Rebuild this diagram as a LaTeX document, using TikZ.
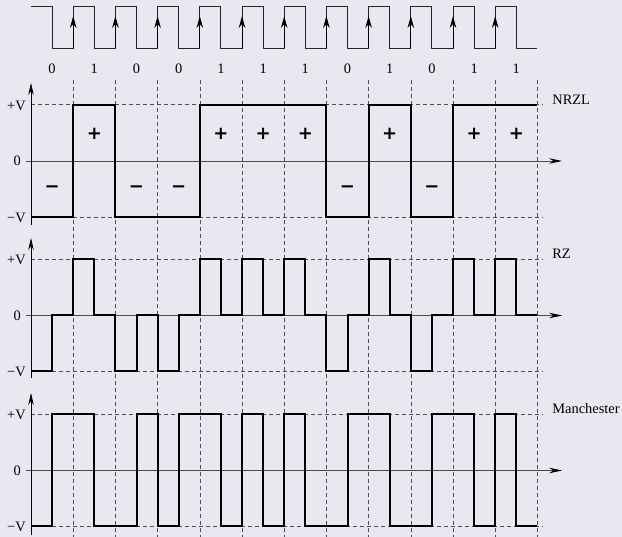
\documentclass[tikz,border=0pt]{standalone}
\usepackage{fontspec}
\setmainfont{Liberation Serif}
\newfontfamily\signfont{DejaVu Sans}
\usetikzlibrary{arrows.meta}
\definecolor{bgcol}{RGB}{232,232,240}
\definecolor{gridcol}{RGB}{80,80,80}
\begin{document}
\begin{tikzpicture}[x=1pt,y=-1pt,
  every node/.style={font=\fontsize{14.4}{16}\selectfont, inner sep=0pt},
  wave/.style={line width=2pt, black},
  clockline/.style={line width=0.9pt, black!85},
  gridline/.style={gridcol, line width=0.6pt, dash pattern=on 4pt off 3pt},
  yaxis/.style={black, line width=0.7pt, -{Stealth[length=12pt,width=5.5pt]}},
  xaxis/.style={black!70, line width=0.9pt, -{Stealth[length=13pt,width=5.5pt,black]}},
  edgearrow/.style={line width=1pt, -{Stealth[length=12pt,width=6.5pt]}},
  lvl/.style={anchor=east},
  signmark/.style={font=\signfont\bfseries\fontsize{18}{22}\selectfont},
  panelname/.style={anchor=base west}]
\fill[bgcol] (0,0) rectangle (622,537);
\useasboundingbox (0,0) rectangle (622,537);
\begin{scope}[xshift=31pt, x=42.2pt]
  % vertical bit boundaries
  \foreach \k in {1,...,12} \draw[gridline] (\k,80) -- (\k,537);
  % clock
  \draw[clockline] (0,6) \foreach \k in {0,...,10} { -- (\k+0.5,6) -- (\k+0.5,48) -- (\k+1,48) -- (\k+1,6) } -- (11.5,6) -- (11.5,48) -- (12,48);
  \foreach \k in {1,...,11} \draw[edgearrow] (\k,48) -- (\k,16);
  % bit labels
  \foreach \b [count=\i from 0] in {0,1,0,0,1,1,1,0,1,0,1,1}
    \node (bit\i) at (\i+0.5,68.5) {\b};
  % panels: +V, 0, -V levels
  \foreach \p/\pv/\z/\nv/\top/\bot/\lab in {nrzl/104.7/161/217/83/225/NRZL, rz/259/315.5/371.5/238/378/RZ, man/414/470.5/526.5/393/535/Manchester} {
    \draw[gridline] (0,\pv) -- (12.13,\pv);
    \draw[gridline] (0,\nv) -- (12.13,\nv);
    \draw[xaxis] (-0.125,\z) -- (12.585,\z);
    \draw[yaxis] (0,\bot) -- (0,\top);
    \node[lvl] (\p pv) at (-0.12,\pv+1.3) {+V};
    \node[lvl] (\p z) at (-0.235,\z) {0};
    \node[lvl] (\p nv) at (-0.12,\nv+0.5) {−V};
    \node[panelname] (\p lab) at (12.35,\pv) {\lab};
  }
  % NRZL
  \draw[wave] (0,217) -- (1,217) -- (1,104.7) -- (2,104.7) -- (2,217) -- (4,217) -- (4,104.7) -- (7,104.7) -- (7,217) -- (8,217) -- (8,104.7) -- (9,104.7) -- (9,217) -- (10,217) -- (10,104.7) -- (12,104.7);
  \foreach \b [count=\i from 0] in {0,1,0,0,1,1,1,0,1,0,1,1} {
    \ifnum\b=1
      \node[signmark] (s\i) at (\i+0.5,133.5) {+};
    \else
      \node[signmark] (s\i) at (\i+0.5,189) {−};
    \fi
  }
  % RZ
  \draw[wave] (0,371.5)--(0.5,371.5)--(0.5,315.5)--(1,315.5)--(1,259)--(1.5,259)--(1.5,315.5)--(2,315.5)--(2,371.5)--(2.5,371.5)--(2.5,315.5)--(3,315.5)--(3,371.5)--(3.5,371.5)--(3.5,315.5)--(4,315.5)--(4,259)--(4.5,259)--(4.5,315.5)--(5,315.5)--(5,259)--(5.5,259)--(5.5,315.5)--(6,315.5)--(6,259)--(6.5,259)--(6.5,315.5)--(7,315.5)--(7,371.5)--(7.5,371.5)--(7.5,315.5)--(8,315.5)--(8,259)--(8.5,259)--(8.5,315.5)--(9,315.5)--(9,371.5)--(9.5,371.5)--(9.5,315.5)--(10,315.5)--(10,259)--(10.5,259)--(10.5,315.5)--(11,315.5)--(11,259)--(11.5,259)--(11.5,315.5)--(12,315.5);
  % Manchester
  \draw[wave] (0,526.5)--(0.5,526.5)--(0.5,414)--(1.5,414)--(1.5,526.5)--(2.5,526.5)--(2.5,414)--(3,414)--(3,526.5)--(3.5,526.5)--(3.5,414)--(4.5,414)--(4.5,526.5)--(5,526.5)--(5,414)--(5.5,414)--(5.5,526.5)--(6,526.5)--(6,414)--(6.5,414)--(6.5,526.5)--(7.5,526.5)--(7.5,414)--(8.5,414)--(8.5,526.5)--(9.5,526.5)--(9.5,414)--(10.5,414)--(10.5,526.5)--(11,526.5)--(11,414)--(11.5,414)--(11.5,526.5)--(12,526.5);
\end{scope}
\end{tikzpicture}
\end{document}
